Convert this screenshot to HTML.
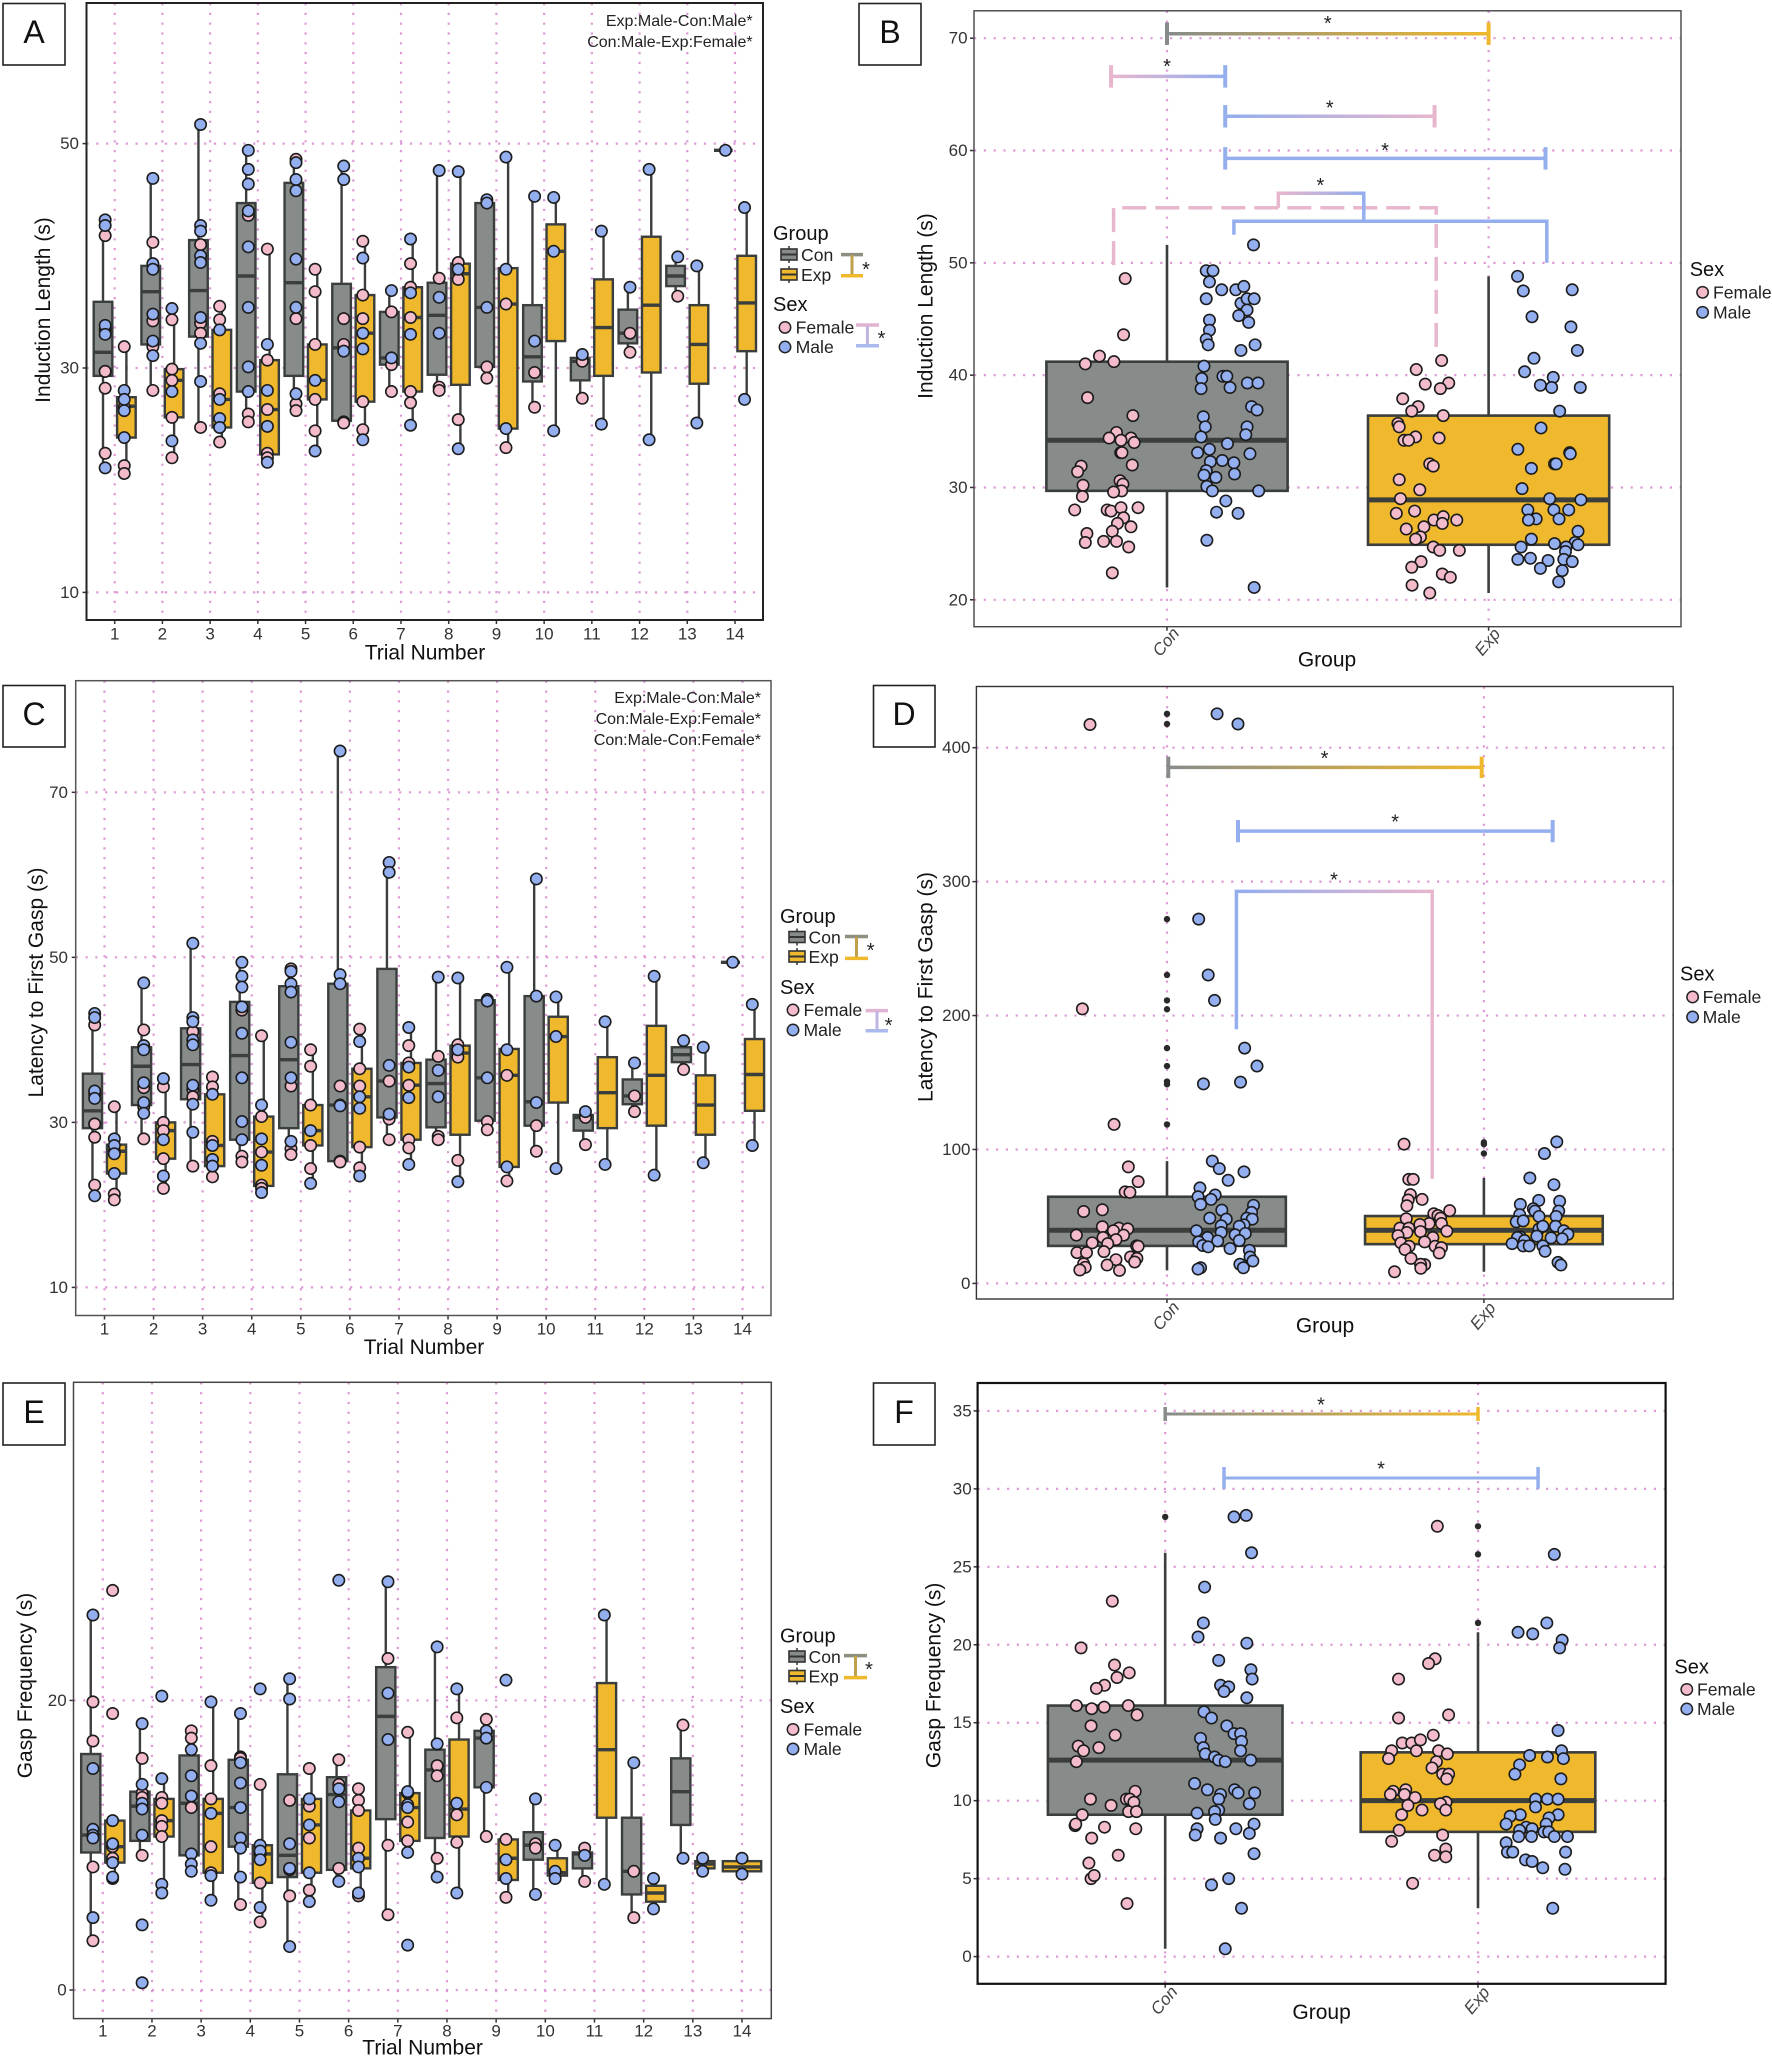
<!DOCTYPE html>
<html lang="en">
<head>
<meta charset="utf-8">
<title>Induction length, latency to first gasp and gasp frequency</title>
<style>
html,body{margin:0;padding:0;background:#fff;}
svg{display:block;font-family:"Liberation Sans",sans-serif;}
.title{font-size:20px;fill:#111;}
.axt{font-size:21px;fill:#111;}
.lab{font-size:17.6px;fill:#222;}
.note{font-size:16px;fill:#222;text-anchor:end;}
.let{font-size:32px;fill:#111;text-anchor:middle;dominant-baseline:central;}
.pan{fill:#fff;stroke:#222;stroke-width:1.6;}
.star{font-size:20px;fill:#222;text-anchor:middle;}
</style>
</head>
<body>
<svg id="figure" width="1772" height="2059" viewBox="0 0 1772 2059" xmlns="http://www.w3.org/2000/svg">
<rect width="1772" height="2059" fill="#fff"/>
<defs id="grads"></defs>
<g id="panelA"></g>
<g id="panelB"></g>
<g id="panelC"></g>
<g id="panelD"></g>
<g id="panelE"></g>
<g id="panelF"></g>

<g>
<rect class="pan" x="3" y="3.5" width="62" height="61.5"/><text class="let" x="34" y="32">A</text>
<rect class="pan" x="859" y="3.5" width="62" height="61.5"/><text class="let" x="890" y="32">B</text>
<rect class="pan" x="3" y="685.5" width="62" height="61.5"/><text class="let" x="34" y="714">C</text>
<rect class="pan" x="873.5" y="685.5" width="61.5" height="61.5"/><text class="let" x="904" y="714">D</text>
<rect class="pan" x="3" y="1383" width="62" height="62"/><text class="let" x="34" y="1412">E</text>
<rect class="pan" x="873.5" y="1383" width="61.5" height="62"/><text class="let" x="904" y="1412">F</text>
</g>

<g>
<text class="axt" text-anchor="middle" dominant-baseline="central" transform="translate(43.5 310) rotate(-90)">Induction Length (s)</text>
<text class="axt" text-anchor="middle" dominant-baseline="central" x="425" y="653">Trial Number</text>
<text class="axt" text-anchor="middle" dominant-baseline="central" transform="translate(926 306) rotate(-90)">Induction Length (s)</text>
<text class="axt" text-anchor="middle" dominant-baseline="central" x="1327" y="660">Group</text>
<text class="axt" text-anchor="middle" dominant-baseline="central" transform="translate(36.7 982.5) rotate(-90)">Latency to First Gasp (s)</text>
<text class="axt" text-anchor="middle" dominant-baseline="central" x="424" y="1347.6">Trial Number</text>
<text class="axt" text-anchor="middle" dominant-baseline="central" transform="translate(926 987) rotate(-90)">Latency to First Gasp (s)</text>
<text class="axt" text-anchor="middle" dominant-baseline="central" x="1325" y="1326">Group</text>
<text class="axt" text-anchor="middle" dominant-baseline="central" transform="translate(25.4 1685.5) rotate(-90)">Gasp Frequency (s)</text>
<text class="axt" text-anchor="middle" dominant-baseline="central" x="422.6" y="2048">Trial Number</text>
<text class="axt" text-anchor="middle" dominant-baseline="central" transform="translate(934 1675.4) rotate(-90)">Gasp Frequency (s)</text>
<text class="axt" text-anchor="middle" dominant-baseline="central" x="1321.6" y="2012.4">Group</text>
</g>

<g>
<text class="note" x="752.6" y="26">Exp:Male-Con:Male*</text>
<text class="note" x="752.6" y="47">Con:Male-Exp:Female*</text>
<text class="note" x="761" y="703">Exp:Male-Con:Male*</text>
<text class="note" x="761" y="724">Con:Male-Exp:Female*</text>
<text class="note" x="761" y="745">Con:Male-Con:Female*</text>
</g>

<g>
<text class="title" x="773" y="240">Group</text>
<path d="M789 246V263" stroke="#333" stroke-width="1.5"/><rect x="781" y="249" width="16" height="11" fill="#878c8a" stroke="#333" stroke-width="1.6"/><path d="M781 254.5H797" stroke="#333" stroke-width="2"/>
<text class="lab" x="801" y="261">Con</text>
<path d="M789 266V283" stroke="#333" stroke-width="1.5"/><rect x="781" y="269" width="16" height="11" fill="#efb82d" stroke="#333" stroke-width="1.6"/><path d="M781 274.5H797" stroke="#333" stroke-width="2"/>
<text class="lab" x="801" y="281">Exp</text>
<path d="M841 254.6H863" stroke="#8d8f80" stroke-width="3.5"/><path d="M852 255V275" stroke="#c0a048" stroke-width="3"/><path d="M841 275.8H863" stroke="#efb82d" stroke-width="3.5"/>
<text class="star" x="866" y="276">*</text>
<text class="title" x="773" y="311">Sex</text>
<circle cx="785" cy="327.4" r="5.7" fill="#f4bccb" stroke="#222" stroke-width="1.5"/>
<text class="lab" x="795.6" y="333.5">Female</text>
<circle cx="785" cy="347" r="5.7" fill="#93aff0" stroke="#222" stroke-width="1.5"/>
<text class="lab" x="795.6" y="353">Male</text>
<path d="M856 325H879" stroke="#e0b4d2" stroke-width="3.5"/><path d="M867.4 326V345" stroke="#c0b4e0" stroke-width="3"/><path d="M856 345.7H879" stroke="#aab8ec" stroke-width="3.5"/>
<text class="star" x="881.5" y="345">*</text>
</g>

<g>
<text class="title" x="1689.7" y="276">Sex</text>
<circle cx="1702.6" cy="292.3" r="5.7" fill="#f4bccb" stroke="#222" stroke-width="1.5"/>
<text class="lab" x="1713" y="298.5">Female</text>
<circle cx="1702.6" cy="312.3" r="5.7" fill="#93aff0" stroke="#222" stroke-width="1.5"/>
<text class="lab" x="1713" y="318.5">Male</text>
</g>

<g>
<text class="title" x="780" y="923">Group</text>
<path d="M797 928.5V945.5" stroke="#333" stroke-width="1.5"/><rect x="789" y="931.5" width="16" height="11" fill="#878c8a" stroke="#333" stroke-width="1.6"/><path d="M789 937H805" stroke="#333" stroke-width="2"/>
<text class="lab" x="808.5" y="943.5">Con</text>
<path d="M797 948V965" stroke="#333" stroke-width="1.5"/><rect x="789" y="951" width="16" height="11" fill="#efb82d" stroke="#333" stroke-width="1.6"/><path d="M789 956.5H805" stroke="#333" stroke-width="2"/>
<text class="lab" x="808.5" y="963">Exp</text>
<path d="M845 936.5H868" stroke="#8d8f80" stroke-width="3.5"/><path d="M856.5 937V958" stroke="#c0a048" stroke-width="3"/><path d="M845 958.4H868" stroke="#efb82d" stroke-width="3.5"/>
<text class="star" x="870.7" y="957">*</text>
<text class="title" x="780" y="994">Sex</text>
<circle cx="793" cy="1010" r="5.7" fill="#f4bccb" stroke="#222" stroke-width="1.5"/>
<text class="lab" x="803.5" y="1016">Female</text>
<circle cx="793" cy="1030" r="5.7" fill="#93aff0" stroke="#222" stroke-width="1.5"/>
<text class="lab" x="803.5" y="1036">Male</text>
<path d="M865.6 1010.6H888" stroke="#e0b4d2" stroke-width="3.5"/><path d="M877 1011V1030" stroke="#c0b4e0" stroke-width="3"/><path d="M865.6 1030.7H888" stroke="#aab8ec" stroke-width="3.5"/>
<text class="star" x="888.6" y="1032">*</text>
</g>

<g>
<text class="title" x="1680" y="980.5">Sex</text>
<circle cx="1692.6" cy="997" r="5.7" fill="#f4bccb" stroke="#222" stroke-width="1.5"/>
<text class="lab" x="1702.6" y="1003">Female</text>
<circle cx="1692.6" cy="1017" r="5.7" fill="#93aff0" stroke="#222" stroke-width="1.5"/>
<text class="lab" x="1702.6" y="1023">Male</text>
</g>

<g>
<text class="title" x="780" y="1642.5">Group</text>
<path d="M797 1648V1665" stroke="#333" stroke-width="1.5"/><rect x="789" y="1651" width="16" height="11" fill="#878c8a" stroke="#333" stroke-width="1.6"/><path d="M789 1656.5H805" stroke="#333" stroke-width="2"/>
<text class="lab" x="808.5" y="1663">Con</text>
<path d="M797 1667.5V1684.5" stroke="#333" stroke-width="1.5"/><rect x="789" y="1670.5" width="16" height="11" fill="#efb82d" stroke="#333" stroke-width="1.6"/><path d="M789 1676H805" stroke="#333" stroke-width="2"/>
<text class="lab" x="808.5" y="1682.5">Exp</text>
<path d="M844 1655.6H867" stroke="#8d8f80" stroke-width="3.5"/><path d="M855.5 1656V1677" stroke="#c0a048" stroke-width="3"/><path d="M844 1677.6H867" stroke="#efb82d" stroke-width="3.5"/>
<text class="star" x="869" y="1676">*</text>
<text class="title" x="780" y="1713">Sex</text>
<circle cx="793" cy="1729.4" r="5.7" fill="#f4bccb" stroke="#222" stroke-width="1.5"/>
<text class="lab" x="803.5" y="1735.5">Female</text>
<circle cx="793" cy="1749" r="5.7" fill="#93aff0" stroke="#222" stroke-width="1.5"/>
<text class="lab" x="803.5" y="1755">Male</text>
</g>

<g>
<text class="title" x="1674.4" y="1673.5">Sex</text>
<circle cx="1686.8" cy="1689.4" r="5.7" fill="#f4bccb" stroke="#222" stroke-width="1.5"/>
<text class="lab" x="1697" y="1695.5">Female</text>
<circle cx="1686.8" cy="1709" r="5.7" fill="#93aff0" stroke="#222" stroke-width="1.5"/>
<text class="lab" x="1697" y="1715">Male</text>
</g>
</svg>

<script>
const trials = [1,2,3,4,5,6,7,8,9,10,11,12,13,14];
const groupLabels = ['Con','Exp'];

/* Panel A: induction length, box stats are [q1, median, q3, low, high] */
const aTicks = [10,30,50];
const aConBoxes = [[29.3,31.4,35.9,21.1,43.2],[32.1,36.8,39.1,28,46.9],[32.8,36.9,41.4,24.7,51.7],[27.9,38.2,44.7,25.2,49.4],[29.3,37.6,46.5,26.2,48.6],[25.3,31.8,37.5,25.1,48],[30.3,30.9,35,27.9,36.9],[29.4,34.7,37.6,28,47.6],[30.1,35.4,44.7,29.1,45],[28.8,31,35.6,26.5,45.3],[28.9,30.6,30.9,27.3,31.2],[32.2,33.1,35.2,31.4,37.2],[37.3,38.2,39.1,36.4,39.9],[49.4,49.4,49.4,49.4,49.4]];
const aExpBoxes = [[23.8,26.6,27.4,20.6,31.9],[25.6,28.9,29.9,22,35.3],[24.7,27.2,33.4,23.4,35.5],[22.3,26.3,30.7,21.6,40.6],[27.2,28.9,32.1,22.6,38.8],[27,33.1,36.5,23.6,41.3],[27.9,34.5,37.2,24.9,41.5],[28.5,38.4,39.3,22.8,47.5],[24.6,35.7,38.9,22.9,48.8],[32.4,40.4,42.8,24.4,45.2],[29.3,33.6,37.9,25,42.2],[29.6,35.6,41.7,23.6,47.7],[28.6,32.1,35.6,25.1,39.1],[31.5,35.8,40,27.2,44.3]];
const aConMale = [[43.2,42.7,33.8,33,21.1],[46.9,39.3,38.8,34.8,32.4,31.1],[51.7,42.7,42.2,40,39.4,34.5,32.2,28.8],[49.4,47.7,46.4,44,40.8,35.4,30.1,27.9],[48.3,46.8,45.8,39.7,35.4,27.7],[48,46.8,31.5],[36.9,30.9],[47.6,36.3,33.1],[45,44.7,35.4],[45.3,32.4],[31.2],[37.2],[39.9],[49.4]];
const aConFemale = [[41.8,33.4,29.7,29.7,28.2,22.4],[41.2,34.2,31.9,28],[41,34,33.1,24.7],[43.6,25.9,25.2],[48.6,34.4,26.8,26.2],[34.4,32.1,25.2,25.1],[35,30.3,27.9],[38,28.3,28],[30.1,29.1],[29.6,26.5],[30.6,27.3],[33.1,31.4],[36.4],[]];
const aExpMale = [[28,27.2,26.2,23.8],[35.3,27.9,23.5],[33.4,27.2,25.5,24.7],[32.1,28,24.8,21.6],[28.9,22.6],[39.8,33.1,31.7,23.6],[41.5,36.7,33,24.9],[47.5,38.8,22.8],[48.8,38.8,24.6],[45.2,40.4,24.4],[42.2,25],[47.7,23.6],[39.1,25.1],[44.3,27.2]];
const aExpFemale = [[31.9,26.5,21.3,20.6],[34.3,29.9,28.9,25.6,22],[35.5,34.3,27.7,24.7,23.4],[40.6,30.7,26.3,22.4,22],[38.8,36.8,32.1,27.2,24.4],[41.3,36.5,34.4,27,24.5],[39.3,37.2,34.5,27.9,26.9],[39.4,37.9,25.4],[35.7,22.9],[],[],[],[],[]];

/* Panel C: latency to first gasp */
const cTicks = [10,30,50,70];
const cConBoxes = [[29.3,31.4,35.9,21.1,43.2],[32.1,36.8,39.1,28,46.9],[32.8,37,41.4,24.7,51.7],[27.9,38.1,44.6,25.2,49.4],[29.3,37.6,46.5,26.1,48.6],[25.3,32.1,46.8,25.2,75],[30.6,35,48.6,27.9,61.5],[29.4,34.7,37.6,27.9,47.6],[30.2,35.4,44.8,29.1,44.9],[29.6,32.5,45.3,26.5,59.5],[29,30.6,30.9,27.3,31.3],[32.2,33.2,35.2,31.3,37.2],[37.3,38.2,39.1,36.4,39.9],[49.4,49.4,49.4,49.4,49.4]];
const cExpBoxes = [[23.8,26.5,27.3,20.6,31.9],[25.6,29,30,22,35.3],[24.7,27.2,33.4,23.4,35.5],[22.3,26.4,30.7,21.5,40.5],[27.2,29,32.1,22.6,38.8],[27,33.1,36.5,23.5,41.3],[27.9,34.5,37.2,24.9,41.5],[28.5,38.4,39.3,22.8,47.5],[24.6,35.7,38.9,22.9,48.8],[32.4,40.4,42.8,24.4,45.2],[29.3,33.6,37.9,24.9,42.2],[29.6,35.7,41.7,23.6,47.7],[28.5,32.1,35.7,25.1,39.1],[31.4,35.8,40.1,27.2,44.3]];
const cConMale = [[43.2,42.7,33.8,32.9,21.1],[46.9,39.3,38.8,34.8,32.4,31.1],[51.7,42.7,42.2,40,39.4,34.5,32.2,28.8],[49.4,47.7,46.4,44,40.8,35.4,30.1,27.9],[48.3,46.8,45.8,39.7,35.4,27.7],[75,47.9,46.8,32],[61.5,60.3,36.9,31],[47.6,36.3,33.1],[44.9,44.7,35.4],[59.5,45.3,32.4],[31.3],[37.2],[39.9],[49.4]];
const cConFemale = [[41.8,33.4,29.8,29.8,28.2,22.4],[41.2,34.2,31.9,28],[41,34,33.1,24.7],[43.6,25.9,25.2],[48.6,34.4,26.8,26.1],[34.4,32.1,25.3,25.2],[35,30.4,27.9],[38,28.3,27.9],[30.1,29.1],[29.6,26.5],[30.6,27.3],[33.2,31.3],[36.4],[]];
const cExpMale = [[28,27.2,26.2,23.8],[35.3,27.9,23.5],[33.4,27.2,25.5,24.7],[32.1,28,24.8,21.5],[29,22.6],[39.8,33.1,31.7,23.5],[41.5,36.7,33,24.9],[47.5,38.8,22.8],[48.8,38.8,24.6],[45.2,40.4,24.4],[42.2,24.9],[47.7,23.6],[39.1,25.1],[44.3,27.2]];
const cExpFemale = [[31.9,26.5,21.3,20.6],[34.3,30,29,25.6,22],[35.5,34.3,27.7,24.7,23.4],[40.5,30.7,26.4,22.4,22],[38.8,36.8,32.1,27.2,24.4],[41.3,36.5,34.4,27,24.5],[39.3,37.2,34.5,27.9,26.9],[39.4,37.9,25.4],[35.7,22.9],[],[],[],[],[]];

/* Panel E: gasp frequency */
const eTicks = [0,20];
const eConBoxes = [[9.5,10.7,16.3,3.4,25.9],[10.3,12.7,13.7,9.3,18.4],[9.3,12.9,16.2,8.2,18],[9.9,12.6,15.9,5.9,19.1],[7.8,9.3,14.9,3,21.5],[8.3,13.5,14.7,7.5,15.9],[11.8,18.9,22.3,5.2,28.2],[10.5,15.2,16.6,7.8,23.7],[14,17.4,17.9,10.6,18.7],[9,10,10.9,6.6,13.2],[8.4,9.4,9.5,7.5,9.8],[6.6,8.2,11.9,5,15.7],[11.4,13.7,16,9.1,18.3],null];
const eExpBoxes = [[8.8,9.9,11.7,7.7,11.7],[10.6,11.7,13.2,6.7,14.6],[8.1,12.2,13.2,6.2,19.9],[7.4,9.4,10,4.7,14.2],[8.1,11.4,13.2,6.2,15.3],[8.4,9.1,12.4,6.4,13.9],[10.3,12.6,13.6,9.5,17.8],[10.6,12.5,17.3,6.7,20.8],[7.6,9.1,10.4,6.4,10.4],[7.9,8.1,9.1,7.7,10],[11.9,16.6,21.2,7.3,25.9],[6.1,6.7,7.2,5.6,7.8],[8.4,8.7,8.9,8.2,9.1],[8.2,8.5,8.9,8,9.1]];
const eConMale = [[25.9,15.3,11.1,10.7,10.5,5],[18.4,14.2,12.9,12.5,10.7,4.5,0.5],[16.6,14.8,13.4,9.4,8.7,8.2],[19.1,15.7,14.3,12.6,10.5,9.8,7.8],[21.5,20.1,10.1,8.4,3],[28.3,13.9,13,7.5],[28.2,20.5,17.3],[23.7,17,7.8],[17.9,17.4,14],[13.2,6.6],[9.3],[15.7],[9.1],[]];
const eConFemale = [[19.9,17.2,10.6,8.5,3.4],[16,13.6,13.3,9.3],[17.9,17.4,12.6],[16.1,16,5.9],[13.1,8.3,6.5],[15.9,14.2,8.4],[22.9,10,5.2],[15.5,14.8,9.1],[18.7,10.6],[10.1,9.8],[9.8,7.5],[8.2,5],[18.3],[]];
const eExpMale = [[11.7,10.1,8.8,7.8],[20.3,14.6,7.3,6.7],[19.9,12.2,7.9,6.2],[20.8,10,9.6,9,5.7],[13.2,11.4,8.1,6.1],[9.1,8.5,6.7],[13.7,12.8,12.6,9.5,3.1],[20.8,12.9,6.7],[21.4,9,7.7],[10,8.2,7.7],[25.9,7.3],[7.7,5.6],[9.1,8.2],[9.1,8]];
const eExpFemale = [[27.6,19.1,9.9,9.1,7.7],[13.3,12.9,11.7,11.3,10.6],[15.5,13.2,9.9,8.1],[14.2,9.4,7.4,4.7],[15.3,12.7,10.5,6.9],[13.9,13.1,12.4,9.8,6.5],[17.8,13.6,11.6,10.3],[18.8,12.1,10.2],[10.4,6.4],[],[],[],[],[]];

/* Panel B: induction length by group; points are [group position, seconds] */
const bTicks = [20,30,40,50,60,70];
const bConBox = [29.7,34.2,41.2,21.1,51.6];
const bExpBox = [24.9,28.9,36.4,20.6,48.8];
const bFemale = [[.87,48.6],[.865,43.6],[.79,41.7],[.835,41.2],[.746,41],[.753,38],[.894,36.4],[.843,34.9],[.888,34.4],[.82,34.4],[.857,34.2],[.898,34],[.856,33.1],[.86,33.1],[.892,32],[.733,31.9],[.722,31.4],[.854,30.6],[.863,30.3],[.739,30.2],[.859,29.7],[.834,29.6],[.737,29.2],[.713,28],[.814,28],[.826,27.9],[.857,28.2],[.91,28.2],[.865,27.3],[.846,26.8],[.888,26.5],[.83,26.1],[.751,25.9],[.746,25.1],[.803,25.2],[.843,25.2],[.881,24.7],[.83,22.4],
[1.854,41.3],[1.775,40.5],[1.876,39.3],[1.803,39.2],[1.85,38.8],[1.733,37.9],[1.781,37.2],[1.761,36.8],[1.859,36.4],[1.718,35.7],[1.722,35.4],[1.773,34.5],[1.846,34.4],[1.737,34.2],[1.751,34.2],[1.817,32.1],[1.828,31.9],[1.722,30.7],[1.786,29.8],[1.726,29],[1.713,27.7],[1.77,27.9],[1.83,27.1],[1.859,27.4],[1.856,26.8],[1.901,27.1],[1.799,26.5],[1.744,26.3],[1.788,25.6],[1.773,25.4],[1.828,24.7],[1.848,24.4],[1.909,24.4],[1.79,23.4],[1.761,22.9],[1.856,22.3],[1.881,22],[1.762,21.3],[1.817,20.6]];
const bMale = [[1.269,51.6],[1.122,49.3],[1.143,49.3],[1.132,48.3],[1.214,47.6],[1.239,47.9],[1.17,47.6],[1.122,46.8],[1.23,46.4],[1.249,46.8],[1.271,46.8],[1.249,45.8],[1.223,45.3],[1.132,44.9],[1.254,44.7],[1.132,44],[1.122,43.2],[1.128,42.7],[1.274,42.7],[1.23,42.2],[1.115,40.8],[1.108,39.7],[1.174,39.9],[1.186,39.9],[1.25,39.3],[1.283,39.3],[1.196,38.9],[1.106,38.8],[1.263,37.2],[1.28,36.9],[1.113,36.3],[1.119,35.4],[1.249,35.4],[1.245,34.7],[1.106,34.5],[1.188,33.9],[1.132,33.4],[1.095,33.1],[1.258,33],[1.172,32.4],[1.208,32.2],[1.135,32.3],[1.122,31.5],[1.21,31.2],[1.115,31.1],[1.152,30.9],[1.124,30.1],[1.141,29.7],[1.285,29.7],[1.183,28.8],[1.154,27.8],[1.221,27.7],[1.124,25.3],[1.271,21.1],
[2.09,48.8],[2.26,47.6],[2.108,47.5],[2.135,45.2],[2.256,44.3],[2.276,42.2],[2.141,41.5],[2.112,40.3],[2.201,39.8],[2.161,39.1],[2.196,38.9],[2.285,38.9],[2.221,36.8],[2.163,35.3],[2.091,33.4],[2.252,33.1],[2.254,33],[2.205,32.1],[2.21,32.1],[2.133,31.7],[2.104,29.9],[2.19,29],[2.287,28.9],[2.122,28],[2.203,28],[2.249,28],[2.148,27.2],[2.124,27.1],[2.219,27.2],[2.278,26.1],[2.133,25.4],[2.101,24.7],[2.205,25],[2.269,25.1],[2.278,24.9],[2.241,24.7],[2.239,24.3],[2.091,23.6],[2.13,23.7],[2.185,23.5],[2.234,23.6],[2.26,23.4],[2.161,22.8],[2.229,22.6],[2.218,21.6]];

/* Panel D: latency by group */
const dTicks = [0,100,200,300,400];
const dConBox = [28,39.7,64.7,9.7,91.3];
const dExpBox = [29.3,39.7,50.3,8.7,78.7];
const dConOutliers = [425.3,417.7,272,230.3,211.3,204.7,175.7,162.3,150.7,148.7,118.7];
const dExpOutliers = [105.3,104,97];
const dFemale = [[.757,417.3],[.733,205],[.833,118.7],[.878,87],[.909,76],[.868,68.3],[.883,68],[.737,53.7],[.796,55],[.796,42.3],[.848,41.3],[.876,40.7],[.831,39.3],[.714,36],[.863,36],[.798,34.3],[.839,32.7],[.764,30.3],[.813,29.7],[.904,28],[.909,27.7],[.716,23],[.746,23],[.801,23.7],[.885,19.7],[.905,18.7],[.839,17.7],[.898,16],[.811,13.7],[.737,14.7],[.742,12],[.725,10],[.85,9.7],
[1.748,104],[1.763,77.7],[1.777,77.7],[1.768,66.3],[1.761,62.3],[1.805,62.7],[1.757,58],[1.892,54.3],[1.842,52],[1.855,50.7],[1.755,48.3],[1.863,48.7],[1.827,44.7],[1.798,44],[1.866,44.7],[1.735,41.3],[1.763,41.3],[1.883,39],[1.8,38.7],[1.757,38],[1.729,35.7],[1.839,34.3],[1.813,31],[1.738,30.3],[1.764,27.7],[1.846,27.7],[1.866,26.7],[1.751,25.3],[1.77,18.7],[1.859,22.7],[1.813,14],[1.8,14.3],[1.801,11.3],[1.718,8.7]];
const dMale = [[1.158,425.3],[1.224,417.7],[1.1,272],[1.13,230.3],[1.15,211.3],[1.245,175.7],[1.284,162.3],[1.232,150.3],[1.115,149],[1.143,91.3],[1.165,85.7],[1.243,83.3],[1.193,77],[1.104,71.3],[1.098,64.7],[1.152,66],[1.139,62.7],[1.106,59],[1.273,58.3],[1.173,54.7],[1.135,48.7],[1.187,48],[1.267,53],[1.252,48.7],[1.269,48],[1.171,43],[1.243,43.7],[1.228,42.7],[1.093,39.3],[1.171,38],[1.128,34.3],[1.215,36.3],[1.247,37.3],[1.1,31],[1.16,31.7],[1.228,32],[1.113,28.3],[1.13,27.3],[1.199,26],[1.26,24.7],[1.262,19.7],[1.271,16.7],[1.23,14.3],[1.241,11.7],[1.106,11.7],[1.098,10.7],
[2.23,105.7],[2.191,97],[2.145,78.7],[2.221,73.7],[2.173,62],[2.239,61.3],[2.115,59],[2.156,55.7],[2.161,54],[2.236,54],[2.113,51.3],[2.174,50],[2.228,50],[2.102,46],[2.124,46.7],[2.174,40.7],[2.226,42.7],[2.186,42.7],[2.252,39.3],[2.115,34.7],[2.167,35.3],[2.265,36.7],[2.106,34.3],[2.212,34],[2.247,33.3],[2.128,32],[2.089,29.7],[2.124,28],[2.143,28],[2.186,28],[2.193,24],[2.234,15.7],[2.243,13.7]];

/* Panel F: frequency by group */
const fTicks = [0,5,10,15,20,25,30,35];
const fConBox = [9.1,12.6,16.1,0.5,25.9];
const fExpBox = [8,10,13.1,3.1,20.8];
const fConOutliers = [28.2];
const fExpOutliers = [27.6,25.8,21.4];
const fFemale = [[.831,22.8],[.731,19.8],[.838,18.7],[.885,18.2],[.846,17.9],[.806,17.4],[.78,17.2],[.716,16.1],[.765,15.9],[.805,16],[.882,16.1],[.91,15.5],[.763,14.8],[.84,14.2],[.722,13.5],[.739,13.2],[.788,13.4],[.716,12.5],[.904,10.6],[.761,10.1],[.876,10.1],[.887,10.1],[.9,9.9],[.827,9.7],[.883,9.3],[.908,9.3],[.735,9.1],[.712,8.4],[.714,8.5],[.806,8.3],[.906,8.2],[.765,7.6],[.85,6.5],[.756,6],[.763,5],[.773,5.2],[.878,3.4],
[1.87,27.6],[1.863,19.1],[1.842,18.8],[1.746,17.8],[1.906,15.5],[1.746,15.3],[1.857,14.2],[1.758,13.7],[1.788,13.7],[1.816,13.9],[1.724,13.2],[1.874,13.2],[1.803,13.2],[1.902,13],[1.714,12.7],[1.867,12.5],[1.853,12.1],[1.887,11.7],[1.906,11.7],[1.9,11.4],[1.729,10.6],[1.769,10.7],[1.72,10.4],[1.765,10.4],[1.799,10.2],[1.898,9.9],[1.88,9.8],[1.776,9.7],[1.821,9.4],[1.897,9.4],[1.756,9.1],[1.748,8.1],[1.887,7.8],[1.724,7.4],[1.897,6.9],[1.861,6.5],[1.897,6.4],[1.791,4.7]];
const fMale = [[1.259,28.3],[1.22,28.2],[1.276,25.9],[1.126,23.7],[1.122,21.4],[1.105,20.5],[1.261,20.1],[1.171,19],[1.274,18.4],[1.278,17.8],[1.177,17.4],[1.203,17.3],[1.188,17],[1.261,16.6],[1.124,15.7],[1.148,15.3],[1.197,14.8],[1.22,14.3],[1.241,14.3],[1.113,14],[1.244,13.8],[1.122,13.4],[1.128,13],[1.241,13.2],[1.158,12.8],[1.171,12.6],[1.192,12.5],[1.273,12.6],[1.094,11.1],[1.135,10.7],[1.222,10.7],[1.177,10.4],[1.233,10.5],[1.286,10.5],[1.171,10.1],[1.269,9.8],[1.171,9.4],[1.158,9.3],[1.102,9.2],[1.16,8.8],[1.284,8.5],[1.102,8.2],[1.226,8.2],[1.096,7.8],[1.269,7.9],[1.177,7.6],[1.284,6.6],[1.203,5],[1.148,4.6],[1.244,3.1],[1.192,0.5],
[2.244,25.8],[2.22,21.4],[2.128,20.8],[2.175,20.7],[2.269,20.3],[2.261,19.8],[2.256,14.5],[2.267,13.2],[2.165,12.9],[2.222,12.8],[2.273,12.7],[2.133,12.3],[2.118,11.7],[2.265,11.4],[2.184,10.1],[2.222,10.1],[2.256,10.1],[2.184,9.6],[2.135,9.1],[2.103,9],[2.256,9.1],[2.227,8.9],[2.09,8.5],[2.154,8.3],[2.173,8.2],[2.218,8.5],[2.133,8.1],[2.211,8],[2.226,8],[2.13,7.7],[2.171,7.7],[2.244,7.7],[2.286,7.7],[2.09,7.3],[2.094,6.7],[2.111,6.7],[2.28,6.7],[2.152,6.2],[2.173,6.1],[2.207,5.7],[2.278,5.6],[2.239,3.1]];

/* Significance brackets: [x1, x2, y, tick half-height, star x, star y] */
const bSpans = [[1,2,70.4,1,1.5,71.6],[.826,1.181,66.6,1,1,67.8],[1.181,1.832,63.05,1,1.506,64.1],[1.181,2.177,59.3,1,1.678,60.3]];
const dSpans = [[1.004,1.993,385.3,8,1.497,394.7],[1.224,2.217,337.7,8.3,1.72,347.3]];
const fSpans = [[1,2,34.8,.45,1.498,35.6],[1.188,2.192,30.7,.7,1.69,31.5]];
const bPinkLink = [[.834,49.8],[.834,54.9],[1.837,54.9],[1.837,42.4]];
const bBlueLink = [[1.208,52.5],[1.208,53.7],[2.181,53.7],[2.181,50]];
const bTopLink = [[1.346,54.9],[1.346,56.2],[1.612,56.2],[1.612,53.7]];
const bTopStar = [1.477,57.2];
const dBlueRun = [[1.219,189.7],[1.219,292.7],[1.837,292.7],[1.837,78]];
const dRunStar = [1.527,304];

const NS = 'http://www.w3.org/2000/svg';
const C = {con:'#878c8a',exp:'#efb82d',pink:'#e8b6cd',blue:'#94aeee',ptF:'#f4bccb',ptM:'#93aff0',line:'#3a3e3d',grid:'#dd9ad6'};
const gridDash = '2.2 7.6';
function mk(parent,tag,attrs,txt){
  const e=document.createElementNS(NS,tag);
  for(const k in attrs){e.setAttribute(k,attrs[k]);}
  if(txt!==undefined){e.textContent=txt;}
  parent.appendChild(e);
  return e;
}
function linear(d0,p0,d1,p1){return v=>p0+(v-d0)*(p1-p0)/(d1-d0);}

function axes(g,f,x,y,xVals,yTicks,xLabelFn,yLabRight,frameW,frameC){
  xVals.forEach(v=>{
    const l=mk(g,'line',{x1:x(v),x2:x(v),y1:f.t,y2:f.b,stroke:C.grid,'stroke-width':2.2,'stroke-dasharray':gridDash});
    
    
  });
  yTicks.forEach(v=>{
    const l=mk(g,'line',{x1:f.l,x2:f.r,y1:y(v),y2:y(v),stroke:C.grid,'stroke-width':2.2,'stroke-dasharray':gridDash});
    
    
    const tk=mk(g,'line',{x1:f.l-4,x2:f.l,y1:y(v),y2:y(v),stroke:'#333','stroke-width':1.5});
    
    
    const t=mk(g,'text',{x:yLabRight,y:y(v),'text-anchor':'end','dominant-baseline':'central','font-size':17,fill:'#333'},v);
    
    
  });
  xVals.forEach((v,i)=>{
    const tk=mk(g,'line',{x1:x(v),x2:x(v),y1:f.b,y2:f.b+4,stroke:'#333','stroke-width':1.5});
    
    
    xLabelFn(v,i);
  });
  const r=mk(g,'rect',{x:f.l,y:f.t,width:f.r-f.l,height:f.b-f.t,fill:'none',stroke:frameC,'stroke-width':frameW});
  
  
}
function box(g,xc,halfPx,y,s,fill,sw,mw,name){
  const wl=mk(g,'line',{x1:xc,x2:xc,y1:y(s[3]),y2:y(s[4]),stroke:C.line,'stroke-width':sw});
  
  
  const r=mk(g,'rect',{x:xc-halfPx,y:y(s[2]),width:halfPx*2,height:Math.max(0,y(s[0])-y(s[2])),fill:fill,stroke:C.line,'stroke-width':sw});
  
  
  const m=mk(g,'line',{x1:xc-halfPx,x2:xc+halfPx,y1:y(s[1]),y2:y(s[1]),stroke:C.line,'stroke-width':mw});
  
  
}
function pt(g,cx,cy,fill,name){
  const c=mk(g,'circle',{cx:cx,cy:cy,r:5.7,fill:fill,stroke:'#1c1c1c','stroke-width':1.6});
  
  
}
let gradId=0;
function grad(x1,x2,c1,c2){
  const id='gr'+(gradId++);
  const d=document.getElementById('grads');
  const lg=mk(d,'linearGradient',{id:id,gradientUnits:'userSpaceOnUse',x1:x1,x2:x2,y1:0,y2:0});
  mk(lg,'stop',{offset:'0','stop-color':c1});
  mk(lg,'stop',{offset:'1','stop-color':c2});
  return 'url(#'+id+')';
}
function star(g,px,py){
  const t=mk(g,'text',{class:'star',x:px,y:py+10},'*');
  
  
}
function span(g,x,y,s,c1,c2,sw){
  const x1=x(s[0]),x2=x(s[1]),yy=y(s[2]);
  const h=mk(g,'line',{x1:x1,x2:x2,y1:yy,y2:yy+0.01,stroke:grad(x1,x2,c1,c2),'stroke-width':sw});
  
  
  const a=mk(g,'line',{x1:x1,x2:x1,y1:y(s[2]+s[3]),y2:y(s[2]-s[3]),stroke:c1,'stroke-width':sw+0.5});
  
  
  const b=mk(g,'line',{x1:x2,x2:x2,y1:y(s[2]+s[3]),y2:y(s[2]-s[3]),stroke:c2,'stroke-width':sw+0.5});
  
  
  star(g,x(s[4]),y(s[5]));
}
function poly(g,x,y,pts,stroke,sw,dash){
  const d=pts.map(p=>x(p[0]).toFixed(1)+','+y(p[1]).toFixed(1)).join(' ');
  const l=mk(g,'polyline',{points:d,fill:'none',stroke:stroke,'stroke-width':sw,'stroke-dasharray':dash||'none'});
  
  
}

function trialPanel(id,f,x,y,ticks,yRight,labY,conB,expB,conM,conF,expM,expF){
  const g=document.getElementById(id);
  axes(g,f,x,y,trials,ticks,(v)=>{
    const t=mk(g,'text',{x:x(v),y:labY,'text-anchor':'middle','dominant-baseline':'central','font-size':17,fill:'#333'},v);
    
    
  },yRight,f.w,f.c);
  const hw=x(1.195)-x(1);
  trials.forEach((t,i)=>{
    const wide=!conB[i];
    if(conB[i]){box(g,x(t-0.245),hw,y,conB[i],C.con,2.4,3.4,'con-trial-'+t);}
    if(expB[i]){box(g,wide?x(t):x(t+0.245),wide?hw*2:hw,y,expB[i],C.exp,2.4,3.4,'exp-trial-'+t);}
  });
  trials.forEach((t,i)=>{
    const cx=x(t-0.2), ex=!conB[i]?x(t):x(t+0.2);
    conF[i].forEach(v=>pt(g,cx,y(v),C.ptF,'point-female-con'));
    conM[i].forEach(v=>pt(g,cx,y(v),C.ptM,'point-male-con'));
    expF[i].forEach(v=>pt(g,ex,y(v),C.ptF,'point-female-exp'));
    expM[i].forEach(v=>pt(g,ex,y(v),C.ptM,'point-male-exp'));
  });
}

function groupPanel(id,f,x,y,ticks,yRight,labY,conB,expB,conOut,expOut,fem,male,sw){
  const g=document.getElementById(id);
  axes(g,f,x,y,[1,2],ticks,(v,i)=>{
    const t=mk(g,'text',{'text-anchor':'middle','dominant-baseline':'central','font-size':17,'font-style':'italic',fill:'#444',transform:'translate('+(x(v)-1)+' '+labY+') rotate(-50)'},groupLabels[i]);
    
    
  },yRight,f.w,f.c);
  const hw=x(1.375)-x(1);
  box(g,x(1),hw,y,conB,C.con,sw,5,'con-overall');
  box(g,x(2),hw,y,expB,C.exp,sw,5,'exp-overall');
  conOut.forEach(v=>{
    const c=mk(g,'circle',{cx:x(1),cy:y(v),r:3.2,fill:'#2a2a2a'});
    
    
  });
  expOut.forEach(v=>{
    const c=mk(g,'circle',{cx:x(2),cy:y(v),r:3.2,fill:'#2a2a2a'});
    
    
  });
  fem.forEach(p=>pt(g,x(p[0]),y(p[1]),C.ptF,'point-female'));
  male.forEach(p=>pt(g,x(p[0]),y(p[1]),C.ptM,'point-male'));
  return g;
}

/* Panel A */
trialPanel('panelA',{l:86.5,r:763,t:3,b:620,w:2,c:'#222'},linear(1,114.7,14,735),linear(10,592.4,50,143.6),aTicks,79,634,aConBoxes,aExpBoxes,aConMale,aConFemale,aExpMale,aExpFemale);
/* Panel C */
trialPanel('panelC',{l:75.7,r:771,t:680.7,b:1315.5,w:1.5,c:'#555'},linear(1,104.5,14,742.5),linear(10,1287.4,70,792.3),cTicks,68,1329,cConBoxes,cExpBoxes,cConMale,cConFemale,cExpMale,cExpFemale);
/* Panel E */
trialPanel('panelE',{l:73.5,r:771.3,t:1382.3,b:2018.6,w:1.5,c:'#444'},linear(1,102.8,14,742),linear(0,1990,40,1410.9),eTicks,66.7,2031,eConBoxes,eExpBoxes,eConMale,eConFemale,eExpMale,eExpFemale);

/* Panel B */
(function(){
  const x=linear(1,1167,2,1488.6), y=linear(20,599.8,70,38.2);
  const g=groupPanel('panelB',{l:974,r:1681,t:10.8,b:626.7,w:1.4,c:'#444'},x,y,bTicks,967.6,642,bConBox,bExpBox,[],[],bFemale,bMale,2.6);
  span(g,x,y,bSpans[0],C.con,C.exp,3.5);
  span(g,x,y,bSpans[1],C.pink,C.blue,3.5);
  span(g,x,y,bSpans[2],C.blue,C.pink,3.5);
  span(g,x,y,bSpans[3],C.blue,C.blue,3.5);
  poly(g,x,y,bPinkLink,C.pink,3.5,'24 9');
  poly(g,x,y,bBlueLink,C.blue,3.5);
  poly(g,x,y,bTopLink,grad(x(bTopLink[0][0]),x(bTopLink[3][0]),C.pink,C.blue),3.5);
  star(g,x(bTopStar[0]),y(bTopStar[1]));
})();

/* Panel D */
(function(){
  const x=linear(1,1167,2,1483.9), y=linear(0,1283.4,400,747.7);
  const g=groupPanel('panelD',{l:976.4,r:1673.2,t:686.5,b:1299,w:1.4,c:'#333'},x,y,dTicks,970.5,1316,dConBox,dExpBox,dConOutliers,dExpOutliers,dFemale,dMale,2.6);
  span(g,x,y,dSpans[0],C.con,C.exp,3.5);
  span(g,x,y,dSpans[1],C.blue,C.blue,3.5);
  poly(g,x,y,dBlueRun,grad(x(dBlueRun[0][0]),x(dBlueRun[3][0]),C.blue,C.pink),3.5);
  star(g,x(dRunStar[0]),y(dRunStar[1]));
})();

/* Panel F */
(function(){
  const x=linear(1,1165.2,2,1478), y=linear(0,1956.6,35,1410.9);
  const g=groupPanel('panelF',{l:977.6,r:1665.6,t:1383,b:1983.8,w:2.2,c:'#111'},x,y,fTicks,971.7,2000.5,fConBox,fExpBox,fConOutliers,fExpOutliers,fFemale,fMale,2.6);
  span(g,x,y,fSpans[0],C.con,C.exp,3);
  span(g,x,y,fSpans[1],C.blue,C.blue,3);
})();
</script>
</body>
</html>
